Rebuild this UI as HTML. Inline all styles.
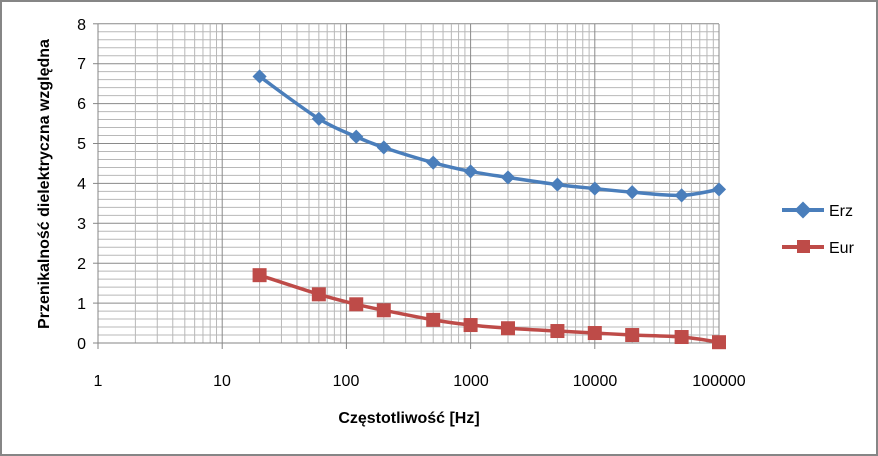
<!DOCTYPE html>
<html><head><meta charset="utf-8"><style>
html,body{margin:0;padding:0;background:#fff;}
svg{display:block;font-family:"Liberation Sans",sans-serif;}
</style></head><body>
<svg id="s" width="878" height="456" xmlns="http://www.w3.org/2000/svg">
<rect x="1" y="1" width="876" height="454" fill="#fff" stroke="#868686" stroke-width="2"/>
<g id="grid"></g>
<g font-size="16" fill="#000" text-anchor="end">
<text x="86" y="349">0</text><text x="86" y="309">1</text><text x="86" y="269">2</text><text x="86" y="229">3</text><text x="86" y="189">4</text><text x="86" y="149">5</text><text x="86" y="109">6</text><text x="86" y="69">7</text><text x="86" y="30">8</text>
</g>
<g font-size="16" fill="#000" text-anchor="middle">
<text x="98" y="386">1</text><text x="222" y="386">10</text><text x="346" y="386">100</text><text x="471" y="386">1000</text><text x="595" y="386">10000</text><text x="719" y="386">100000</text>
</g>
<text x="409" y="423" font-size="16" font-weight="bold" text-anchor="middle">Częstotliwość [Hz]</text>
<text transform="translate(49,184) rotate(-90)" font-size="16" font-weight="bold" text-anchor="middle">Przenikalność dielektryczna względna</text>
<g id="series"></g>
<line x1="782" y1="210" x2="824" y2="210" stroke="#4a7ebb" stroke-width="4"/>
<rect x="797" y="204" width="12" height="12" fill="#4a7ebb" transform="rotate(45 803 210)"/>
<text x="829" y="216" font-size="16">Erz</text>
<line x1="782" y1="247" x2="824" y2="247" stroke="#be4b48" stroke-width="4"/>
<rect x="797" y="240" width="13" height="13" fill="#be4b48"/>
<text x="829" y="253" font-size="16">Eur</text>
</svg>
<script>
var X0=98,DX=124.2,Y0=343,DY=39.9;
function X(f){return X0+Math.log10(f)*DX;}function Y(v){return Y0-v*DY;}
var g='';
for(var i=0;i<=40;i++){var y=Y(i*0.2);g+='<line x1="'+X0+'" x2="719" y1="'+y+'" y2="'+y+'" stroke="'+(i%5==0?'#8a8a8a':'#b8b8b8')+'" stroke-width="1"/>';}
for(var d=0;d<5;d++)for(var k=1;k<10;k++){var x=X(Math.pow(10,d)*k);g+='<line y1="24" y2="343" x1="'+x+'" x2="'+x+'" stroke="'+(k==1?'#8a8a8a':'#b8b8b8')+'" stroke-width="1"/>';}
g+='<line x1="719" x2="719" y1="24" y2="343" stroke="#8a8a8a"/>';
g+='<line x1="'+X0+'" x2="'+X0+'" y1="24" y2="343" stroke="#868686"/><line x1="'+X0+'" x2="719" y1="343" y2="343" stroke="#868686"/>';
for(var i=0;i<=8;i++)g+='<line x1="93" x2="98" y1="'+Y(i)+'" y2="'+Y(i)+'" stroke="#868686"/>';
for(var d=0;d<=5;d++)g+='<line y1="343" y2="349" x1="'+X(Math.pow(10,d))+'" x2="'+X(Math.pow(10,d))+'" stroke="#868686"/>';
document.getElementById('grid').innerHTML=g;
var F=[20,60,120,200,500,1000,2000,5000,10000,20000,50000,100000];
var A=[6.68,5.62,5.17,4.9,4.52,4.3,4.15,3.97,3.87,3.78,3.7,3.85];
var B=[1.7,1.22,0.97,0.82,0.58,0.45,0.37,0.3,0.25,0.2,0.15,0.02];
function path(V){var p=F.map(function(f,i){return [X(f),Y(V[i])];});
var d='M'+p[0];for(var i=0;i<p.length-1;i++){var p0=p[i-1]||p[i],p1=p[i],p2=p[i+1],p3=p[i+2]||p2;var t=6;
d+=' C'+(p1[0]+(p2[0]-p0[0])/t)+','+(p1[1]+(p2[1]-p0[1])/t)+' '+(p2[0]-(p3[0]-p1[0])/t)+','+(p2[1]-(p3[1]-p1[1])/t)+' '+p2;}return [d,p];}
var s='',a=path(A),b=path(B);
s+='<path d="'+a[0]+'" fill="none" stroke="#4a7ebb" stroke-width="3.5"/>';
s+='<path d="'+b[0]+'" fill="none" stroke="#be4b48" stroke-width="3.5"/>';
a[1].forEach(function(p){s+='<rect x="'+(p[0]-5)+'" y="'+(p[1]-5)+'" width="10" height="10" fill="#4a7ebb" transform="rotate(45 '+p[0]+' '+p[1]+')"/>';});
b[1].forEach(function(p){s+='<rect x="'+(p[0]-7)+'" y="'+(p[1]-7)+'" width="14" height="14" fill="#be4b48"/>';});
document.getElementById('series').innerHTML=s;
</script>
</body></html>
